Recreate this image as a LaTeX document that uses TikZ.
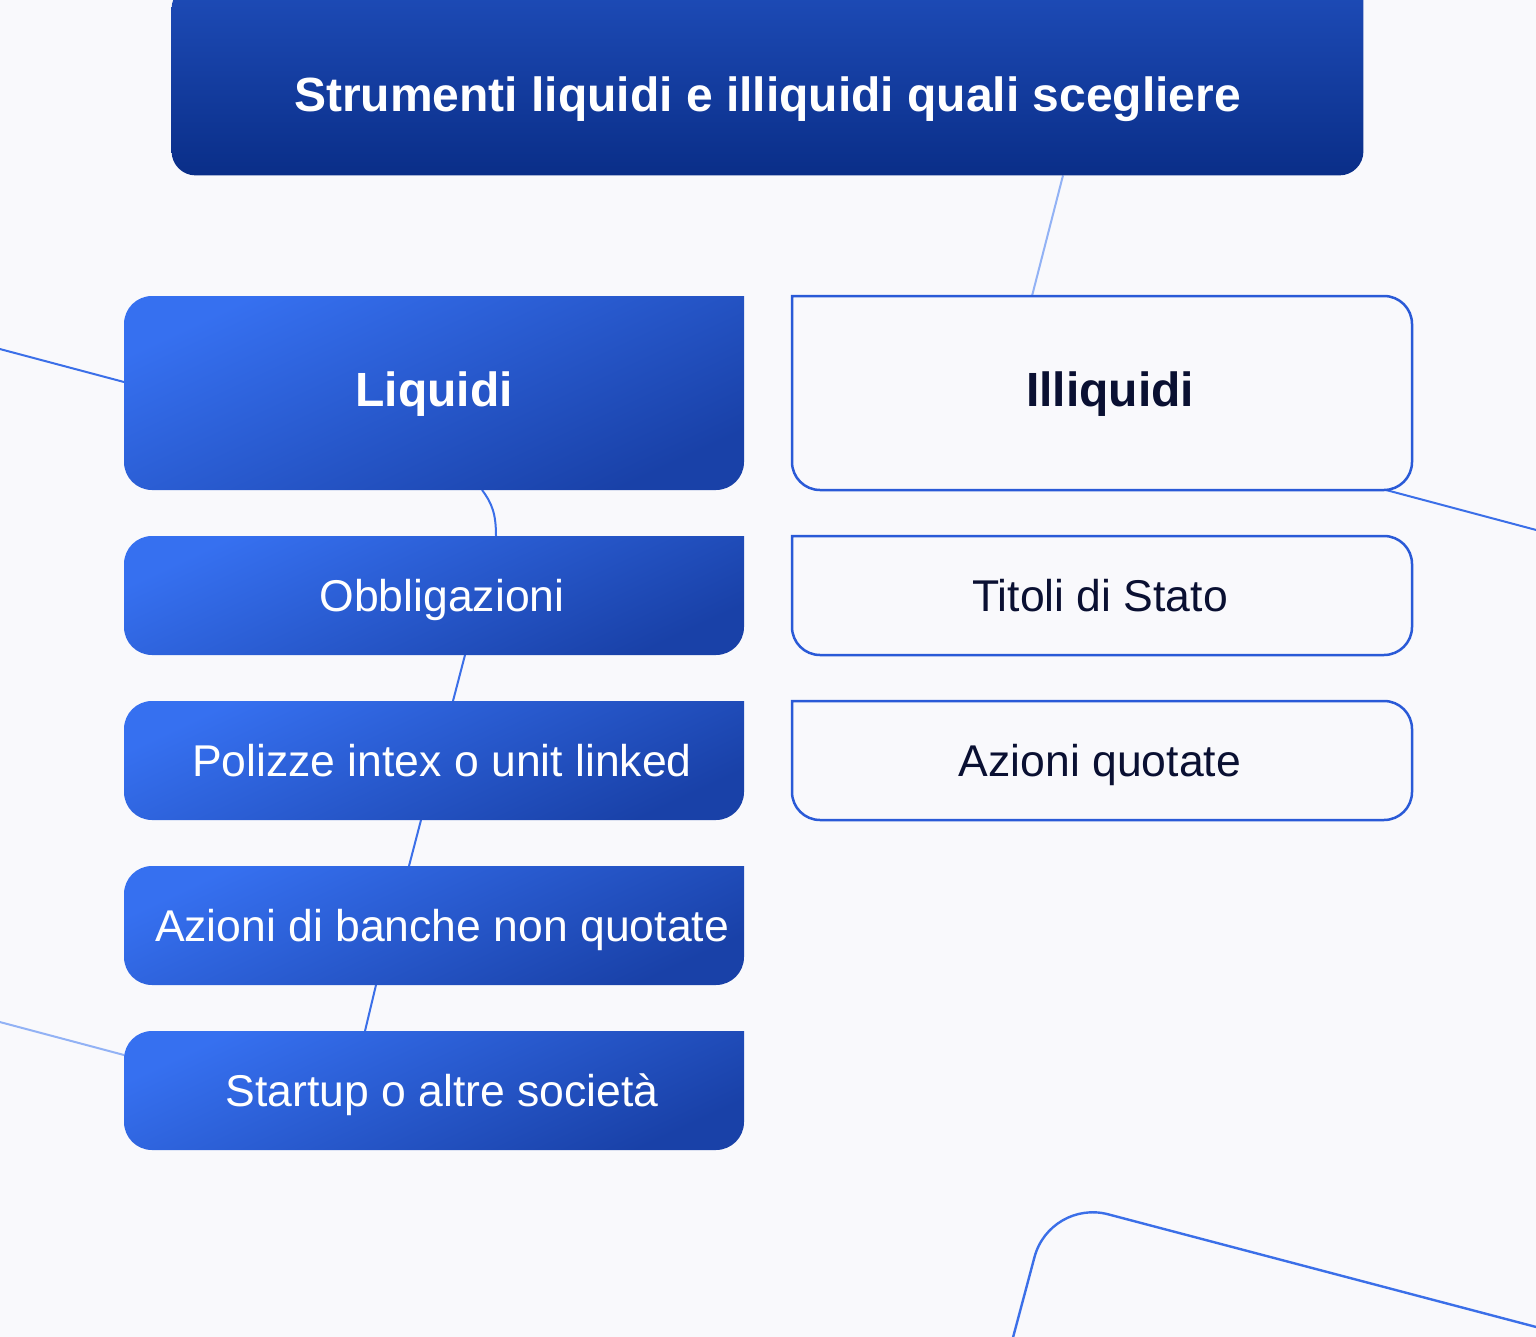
\documentclass[tikz,border=0pt]{standalone}
\usepackage{fontspec}
\setmainfont{Liberation Sans}
\usetikzlibrary{matrix}

\definecolor{sfondo}{RGB}{249,249,252}
\definecolor{bluchiaro}{RGB}{54,112,240}
\definecolor{bluscuro}{RGB}{25,65,168}
\definecolor{titolosu}{RGB}{30,76,184}
\definecolor{titologiu}{RGB}{10,46,136}
\definecolor{blubordo}{RGB}{42,90,215}
\definecolor{blulinea}{RGB}{59,111,232}
\definecolor{blutenue}{RGB}{146,178,245}
\definecolor{blunotte}{RGB}{10,16,50}

\begin{document}
\begin{tikzpicture}[
        x=0.5pt, y=-0.5pt,
        pieno/.style={top color=bluchiaro, bottom color=bluscuro, shading angle=25},
        vuoto/.style={draw=blubordo, line width=1.25pt, fill=sfondo, line cap=rect},
        collegamento/.style={draw=blulinea, line width=1pt},
        tenue/.style={draw=blutenue, line width=1pt},
        voce/.style={font=\fontsize{22.25}{26}\selectfont, inner sep=0pt,
                     text height=15.9pt, text depth=0pt},
        capo/.style={font=\fontsize{24}{28}\selectfont\bfseries, inner sep=0pt,
                     text height=17.2pt, text depth=0pt}
        ]
            \fill[sfondo] (0,0) rectangle (1536,1337);
            \useasboundingbox (0,0) rectangle (1536,1337);

            \node [minimum width=595.5pt, minimum height=95pt, inner sep=0pt] (T) at (767.5,80) {};

            \matrix (S) [
                matrix of nodes, nodes in empty cells,
                anchor=north west, inner sep=0pt, outer sep=0pt,
                column sep=24pt, row sep=23pt,
                nodes={minimum width=310pt, minimum height=59.5pt, inner sep=0pt, outer sep=0pt},
                row 1/.style={nodes={minimum height=97pt}}
            ] at (124,296)
            {
                & \\
                & \\
                & \\
                & \\
                & \\
            };

            % Collegamenti
            \coordinate (bordo-sx-1) at (-4,348);
            \coordinate (bordo-sx-2) at (-4,1021);
            \coordinate (bordo-dx-1) at (1540,531);
            \draw[tenue] ([xshift=147.75pt]T.south) -- ([xshift=-35pt]S-1-2.north);
            \draw[collegamento] (bordo-sx-1) -- ([yshift=5.5pt]S-1-1.west);
            \draw[collegamento] ([xshift=-13pt]S-1-2.south east) -- (bordo-dx-1);
            \draw[collegamento] ([xshift=24pt]S-1-1.south) .. controls +(10,13) and +(0,-22) .. ([xshift=31pt]S-2-1.north);
            \draw[collegamento] ([xshift=15.5pt]S-2-1.south) -- ([xshift=9.5pt]S-3-1.north);
            \draw[collegamento] ([xshift=-6.5pt]S-3-1.south) -- ([xshift=-12.5pt]S-4-1.north);
            \draw[collegamento] ([xshift=-29pt]S-4-1.south) -- ([xshift=-34.5pt]S-5-1.north);
            \draw[tenue] (bordo-sx-2) -- ([yshift=17.75pt]S-5-1.west);

            % Linea in basso
            \coordinate (basso-1) at (1011,1345);
            \coordinate (basso-2) at (1050,1199);
            \coordinate (basso-3) at (1540,1328);
            \draw[collegamento, line width=1.2pt, rounded corners=30pt] (basso-1) -- (basso-2) -- (basso-3);

            % Riquadri
            \shade[top color=titolosu, bottom color=titologiu, rounded corners=12pt]
                (T.north east) -- (T.south east) -- (T.south west) -- (T.north west) -- (T.north east);
            \foreach \n in {S-1-1,S-2-1,S-3-1,S-4-1,S-5-1}
                \shade[pieno, rounded corners=14pt]
                    (\n.north east) -- (\n.south east) -- (\n.south west) -- (\n.north west) -- (\n.north east);
            \foreach \n in {S-1-2,S-2-2,S-3-2}
                \draw[vuoto, rounded corners=14pt]
                    (\n.north west) -- (\n.north east) -- (\n.south east) -- (\n.south west) -- (\n.north west);

            % Testi
            \node[capo, text=white] (titolo) at ([yshift=-7pt]T) {Strumenti liquidi e illiquidi quali scegliere};
            \node[capo, text=white] (liquidi) at ([yshift=2pt]S-1-1) {Liquidi};
            \node[capo, text=blunotte] (illiquidi) at ([xshift=4pt, yshift=2pt]S-1-2) {Illiquidi};
            \node[voce, text=white] (obbligazioni) at ([xshift=4pt]S-2-1) {Obbligazioni};
            \node[voce, text=white] (polizze) at ([xshift=4pt]S-3-1) {Polizze intex o unit linked};
            \node[voce, text=white] (banche) at ([xshift=4pt]S-4-1) {Azioni di banche non quotate};
            \node[voce, text=white] (startup) at ([xshift=4pt]S-5-1) {Startup o altre società};
            \node[voce, text=blunotte] (titoli) at ([xshift=-1pt]S-2-2) {Titoli di Stato};
            \node[voce, text=blunotte] (quotate) at ([xshift=-1pt]S-3-2) {Azioni quotate};

        \end{tikzpicture}
\end{document}
